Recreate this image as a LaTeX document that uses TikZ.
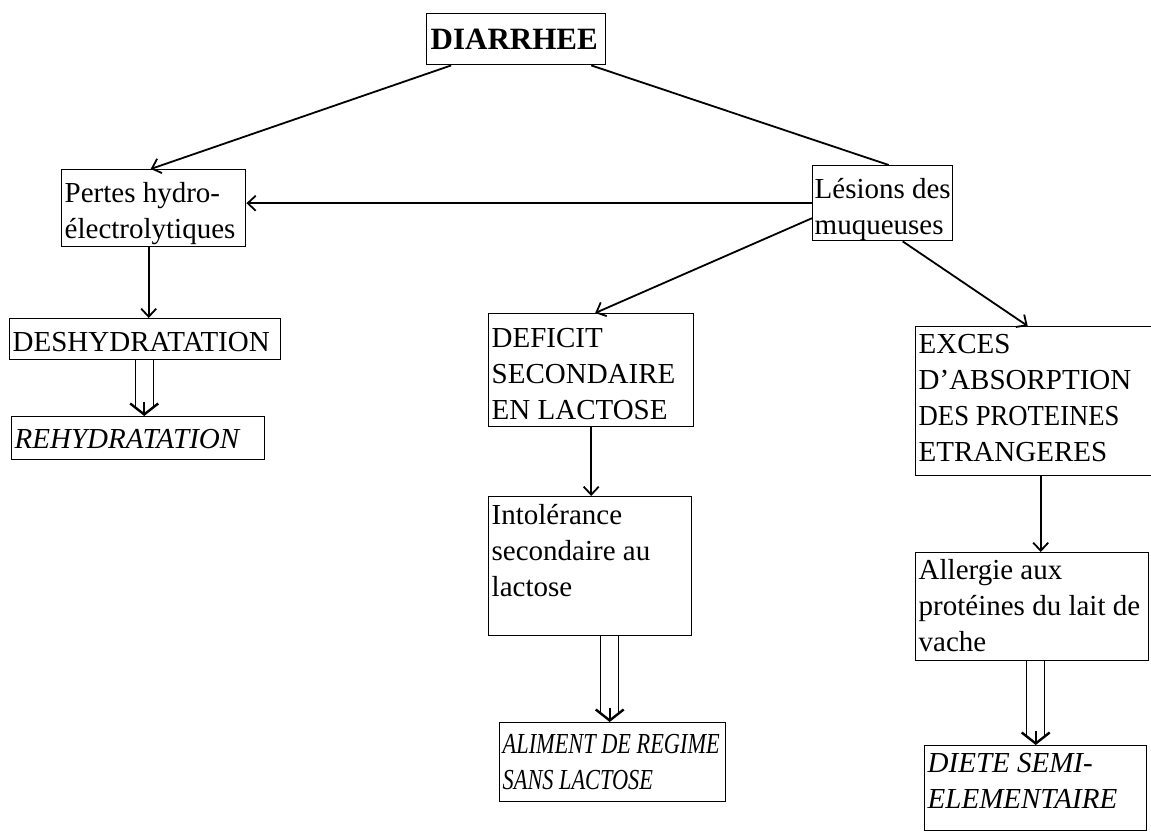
\documentclass[tikz,border=0pt]{standalone}
\usepackage{fontspec}
\usepackage{graphicx}
\setmainfont{Liberation Serif}
\newfontfamily\tnr{Liberation Serif}
\usetikzlibrary{arrows.meta}
% #1 width, #2 height, #3 strut (baseline offset of first line), #4 text
\newcommand\boxtext[4]{\parbox[c][#2][t]{#1}{\raggedright\rule{0pt}{#3}#4}}
\tikzset{
  box/.style={draw, line width=1.4pt, inner xsep=3pt, inner ysep=2pt, anchor=north west,
              font=\tnr\fontsize{29}{36}\selectfont},
  itbox/.style={box, font=\tnr\itshape\fontsize{29}{36}\selectfont},
  conn/.style={line width=1.8pt},
  arr/.style={conn, -{Straight Barb[length=8pt,width=15pt,line width=1.8pt]}},
  dblarr/.style={conn, -{Straight Barb[length=11pt,width=28pt,line width=2.4pt]}},
  dbl/.style={line width=1.4pt}
}
\begin{document}
\begin{tikzpicture}[x=1pt,y=-1pt]
\useasboundingbox (0,0) rectangle (1151,836);
\fill[white] (0,0) rectangle (1151,836);

\node[box, font=\tnr\bfseries\fontsize{31}{36}\selectfont] (diar) at (426,13) {\boxtext{173pt}{47pt}{34pt}{\hspace*{1pt}DIARRHEE}};
\node[box] (pertes) at (61,169) {\boxtext{178pt}{73pt}{31pt}{Pertes hydro-\\électrolytiques}};
\node[box, inner xsep=2pt] (lesions) at (812,165) {\boxtext{136pt}{71pt}{31pt}{Lésions des\\muqueuses}};
\node[box] (desh) at (9,318) {\boxtext{265pt}{37pt}{31pt}{DESHYDRATATION}};
\node[itbox] (rehy) at (11,416) {\boxtext{247pt}{39pt}{30pt}{REHYDRATATION}};
\node[box] (deficit) at (488,313) {\boxtext{199pt}{109pt}{32pt}{DEFICIT\\SECONDAIRE\\EN LACTOSE}};
\node[box] (intol) at (488,496) {\boxtext{197pt}{135pt}{26pt}{Intolérance\\secondaire au\\lactose}};
\node[itbox] (aliment) at (499,722) {\boxtext{220pt}{75pt}{29pt}{\scalebox{0.77}[1]{ALIMENT DE REGIME}\\\scalebox{0.77}[1]{SANS LACTOSE}}};
\node[box] (exces) at (915,326) {\boxtext{230pt}{145pt}{25pt}{EXCES\\D’ABSORPTION\\\scalebox{0.92}[1]{DES PROTEINES}\\ETRANGERES}};
\node[box] (allergie) at (915,552) {\boxtext{227pt}{104pt}{25pt}{Allergie aux\\protéines du lait de\\vache}};
\node[itbox] (diete) at (924,745) {\boxtext{216pt}{81pt}{25pt}{DIETE SEMI-\\ELEMENTAIRE}};

% single arrows
\draw[arr] ([xshift=-65pt]diar.south) -- ([xshift=-3pt]pertes.north);
\draw[conn] ([xshift=75pt]diar.south) -- ([xshift=6pt]lesions.north);
\draw[arr] (lesions.west) -- (lesions.west -| pertes.east);
\draw[arr] ([yshift=-15pt]lesions.west) -- ([xshift=4pt]deficit.north);
\draw[arr] ([xshift=20pt]lesions.south) -- ([xshift=-6pt]exces.north);
\draw[arr] ([xshift=-5pt]pertes.south) -- ([xshift=-5pt]pertes.south |- desh.north);
\draw[arr] (deficit.south) -- (deficit.south |- intol.north);
\draw[arr] ([xshift=7pt]exces.south) -- ([xshift=7pt]exces.south |- allergie.north);

% double arrows
\coordinate (d1) at ([xshift=-1pt]desh.south);
\draw[dbl] ([xshift=-9pt]d1) -- ([xshift=-9pt,yshift=9pt]d1 |- rehy.north);
\draw[dbl] ([xshift=9pt]d1) -- ([xshift=9pt,yshift=9pt]d1 |- rehy.north);
\draw[dblarr] ([yshift=14pt]d1 |- rehy.north) -- (d1 |- rehy.north);

\coordinate (d2) at ([xshift=-3pt]aliment.north);
\draw[dbl] ([xshift=-9pt]d2 |- intol.south) -- ([xshift=-9pt,yshift=9pt]d2);
\draw[dbl] ([xshift=9pt]d2 |- intol.south) -- ([xshift=9pt,yshift=9pt]d2);
\draw[dblarr] ([yshift=14pt]d2) -- (d2);

\coordinate (d3) at (diete.north);
\draw[dbl] ([xshift=-9pt]d3 |- allergie.south) -- ([xshift=-9pt,yshift=9pt]d3);
\draw[dbl] ([xshift=9pt]d3 |- allergie.south) -- ([xshift=9pt,yshift=9pt]d3);
\draw[dblarr] ([yshift=14pt]d3) -- (d3);
\end{tikzpicture}
\end{document}
